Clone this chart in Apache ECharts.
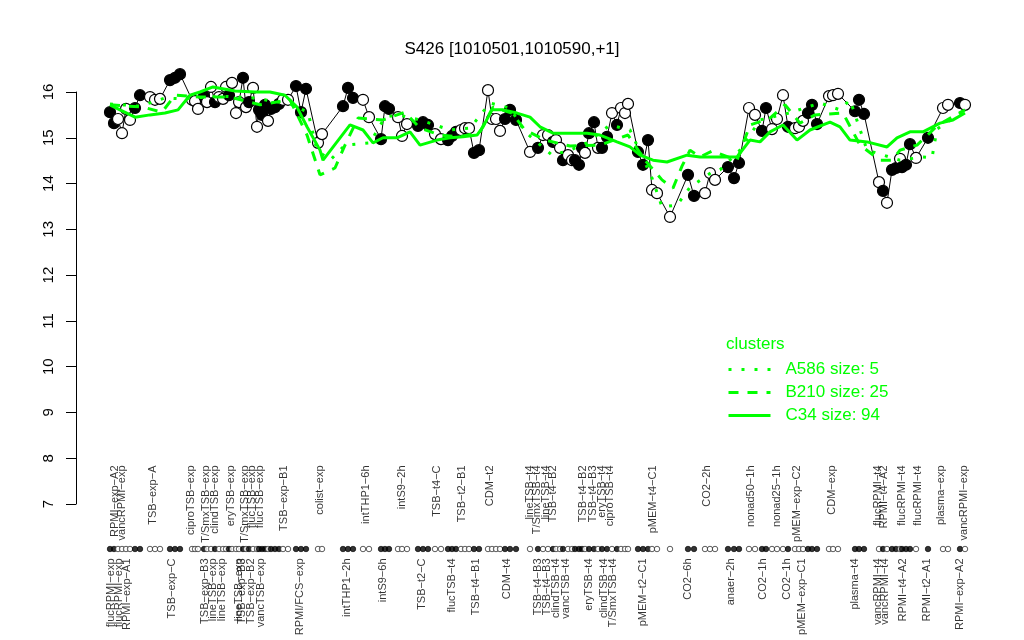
<!DOCTYPE html>
<html><head><meta charset="utf-8">
<script src="https://cdn.jsdelivr.net/npm/echarts@6/dist/echarts.min.js"></script>
<style>html,body{margin:0;padding:0;background:#fff}#c{width:1024px;height:640px}</style>
</head><body><div id="c"></div>
<script>
// sample order positions along x (sample slots)
const samplePos = [
1,2,3,4,5,6,7.25,8.5,11,12.25,
13.5,16,17.25,18.5,21.5,22.25,23,24.5,25.25,26.25,
27.25,28.25,29.25,30,30.75,31.5,32.5,33.25,34.25,35,
35.75,36.75,37.75,38.25,39,39.75,40.5,41.25,42.25,43.25,
44.25,45.5,47.5,48.75,50,53,54,59.25,60.5,61.75,
64.25,65.75,68.75,69.75,70.75,73,74,75.25,78,79.25,
80.5,82.25,83.75,85.5,86.5,87.5,88.75,89.75,90.75,92,
93.25,95.5,96.5,97.5,98.5,99.75,101,102.5,106,108,
109.25,110.5,111.75,112.5,113.5,114.25,115.5,116.5,117.25,118.25,
119,119.75,120.75,122,123,124,125.25,126.5,127.75,128.75,
129.75,130.5,133,134.25,135.5,136.5,137.75,141,145.5,147,
149.75,151,152.25,155.5,157,158.25,160.75,162.25,164,165,
166.5,167.75,169.25,170.5,172.25,173.25,174.25,175.5,176.5,177.75,
180.75,181.75,183,187.25,188.25,189.5,193.25,194.25,195.25,196.5,
197.5,198.5,199,200,201,202.5,205.5,209.25,210.5,213.5,
214.75];
// S426 expression per sample
const expr = [
15.56,15.32,15.41,15.10,15.63,15.39,15.65,15.93,15.89,15.83,
15.85,16.26,16.31,16.39,15.83,15.80,15.63,15.91,15.78,16.11,
15.78,15.89,15.85,16.11,15.93,16.20,15.54,15.78,16.31,15.67,
15.78,16.09,15.24,15.61,15.50,15.72,15.37,15.63,15.67,15.74,
15.83,15.83,16.13,15.56,16.07,14.89,15.08,15.69,16.09,15.87,
15.83,15.45,14.97,15.69,15.63,15.45,15.04,15.30,15.26,15.34,
15.28,15.08,14.97,14.95,15.04,15.13,15.17,15.21,15.21,14.67,
14.73,16.04,15.41,15.41,15.15,15.41,15.61,15.39,14.69,14.78,
15.06,15.06,14.91,14.95,14.78,14.51,14.62,14.51,14.51,14.41,
14.78,14.67,15.10,15.34,14.78,14.78,15.02,15.54,15.28,15.65,
15.54,15.74,14.69,14.41,14.95,13.86,13.79,13.27,14.19,13.73,
13.79,14.23,14.08,14.36,14.12,14.45,15.65,15.50,15.15,15.65,
15.19,15.41,15.93,15.24,15.21,15.24,15.37,15.54,15.72,15.30,
15.91,15.93,15.96,15.58,15.83,15.52,14.03,13.84,13.58,14.30,
14.34,14.54,14.36,14.41,14.86,14.56,15.00,15.65,15.72,15.76,
15.72];
// 1 = filled marker, 0 = open marker
const filled = [
1,1,0,0,0,0,1,1,0,0,
0,1,1,1,0,0,0,1,0,0,
1,0,0,0,1,0,0,0,1,0,
1,0,0,1,1,1,0,1,1,1,
0,0,1,1,1,0,0,1,1,1,
0,0,1,1,1,0,0,0,1,1,
1,0,0,1,1,1,0,0,0,1,
1,0,0,0,0,1,1,1,0,1,
0,0,1,0,0,1,0,0,1,1,
1,0,1,1,0,1,1,0,1,0,
0,0,1,1,1,0,0,0,1,1,
0,0,0,1,1,1,0,0,1,1,
0,0,0,1,0,0,0,1,1,1,
0,0,0,1,1,1,0,1,0,1,
1,0,1,1,1,0,1,0,0,1,
0];
// cluster mean profiles
const c34Pos = [1,3.5,7.25,11,14.75,18,21,23.5,26.75,32.25,37.25,41,44.75,47.75,50.25,53.5,54.25,61,64.25,66.75,69.25,72.75,76,78.5,82.75,86,89.25,92.75,94.25,96.5,99.25,102.75,106,108.5,111.75,115.25,120.25,123.5,127.75,131,133.5,136.75,140.25,145.25,148.5,152.75,157.75,161,163.5,166,169.25,172.75,176,181,183.5,186,190.25,195.25,197.75,201,204.25,208.5,211.75,214.75];
const c34Val = [15.72,15.61,15.45,15.50,15.54,15.61,15.93,16.00,16.11,16.02,16.00,16.00,15.93,15.67,15.24,14.73,14.51,15.28,15.17,14.89,15.00,15.00,15.13,14.84,14.95,15.00,15.02,15.06,15.24,15.61,15.61,15.54,15.45,15.24,15.10,15.10,15.10,15.06,14.91,14.80,14.62,14.51,14.47,14.62,14.58,14.58,14.58,14.95,14.91,15.13,15.28,14.95,15.17,15.34,15.24,14.95,14.91,14.80,15.00,15.13,15.13,15.32,15.39,15.54];
const b210Pos = [1,9.25,14,17.25,23.5,31,38.5,46,50.25,53.5,57.25,59.75,63,69.25,74.75,78.5,83.5,88.5,93.5,96.75,101.5,104.75,109.75,116,123.5,130.5,134.75,139,141.75,144,146,148.5,151.5,157.75,161,166,169.75,173.5,177.25,184.25,188.5,193.5,196.5,198.5,202.75,208,214.75];
const b210Val = [15.72,15.67,15.56,15.93,15.89,15.89,15.72,15.83,15.06,14.19,14.34,14.84,15.43,15.39,15.56,15.21,15.06,15.02,15.13,15.67,15.54,15.17,14.95,14.82,14.84,15.06,14.51,14.08,13.90,14.38,14.73,14.58,14.71,14.51,15.28,15.43,15.72,15.32,15.50,15.54,14.84,14.51,14.51,14.73,14.84,15.28,15.61];
const a586Pos = [1,8.5,14.75,19,28.5,36.75,46,50.5,52.75,56,59.75,66,69.75,73,78.5,86,91,96,101,104.75,111.5,116,120.25,126,131,136.5,139,142.75,146,151.5,153.5,158.5,163.5,170.75,178.5,183.5,186,190.25,198.5,204.25,206.5,207.75,214.75];
const a586Val = [15.74,15.69,15.87,15.85,15.91,15.87,15.74,15.56,14.73,14.51,14.84,14.89,15.45,15.50,15.39,15.17,15.21,15.76,15.65,15.13,14.62,14.73,14.89,15.28,15.17,14.12,13.49,13.53,13.92,14.25,14.30,14.73,15.39,15.54,15.76,15.61,15.83,14.73,14.51,14.58,14.56,15.19,15.61];
// condition labels (above / below the rug)
const topLabelNames = ["RPMI\u2212exp\u2212A2","vancRPMI\u2212exp","TSB\u2212exp\u2212A","ciproTSB\u2212exp","T/SmxTSB\u2212exp","clindTSB\u2212exp","eryTSB\u2212exp","T/SmxTSB\u2212exp","flucTSB\u2212exp","flucTSB\u2212exp","TSB\u2212exp\u2212B1","colist\u2212exp","intTHP1\u22126h","intS9\u22122h","TSB\u2212t4\u2212C","TSB\u2212t2\u2212B1","CDM\u2212t2","lineTSB\u2212t4","T/SmxTSB\u2212t4","lineTSB\u2212t4","TSB\u2212t4\u2212B2","TSB\u2212t4\u2212B2","TSB\u2212t4\u2212B3","eryTSB\u2212t4","ciproTSB\u2212t4","pMEM\u2212t4\u2212C1","CO2\u22122h","nonad50\u22121h","nonad25\u22121h","pMEM\u2212exp\u2212C2","CDM\u2212exp","flucRPMI\u2212t4","RPMI\u2212t4\u2212A2","flucRPMI\u2212t4","flucRPMI\u2212t4","plasma\u2212exp","vancRPMI\u2212exp"];
const topLabelPos = [2.25,4,11.75,21.25,25,27.25,31.25,34.75,36.5,38.5,44.5,53.5,65,74,82.75,89,96,106,107.75,110,111.75,119.25,121.75,124,126,136.75,150.25,161.25,167.75,172.75,181.5,193,194.5,199,203,208.75,214.5];
const bottomLabelNames = ["flucRPMI\u2212exp","flucRPMI\u2212exp","RPMI\u2212exp\u2212A1","TSB\u2212exp\u2212C","TSB\u2212exp\u2212B3","lineTSB\u2212exp","lineTSB\u2212exp","lineTSB\u2212exp","TSB\u2212exp\u2212B3","TSB\u2212exp\u2212B2","vancTSB\u2212exp","RPMI/FCS\u2212exp","intTHP1\u22122h","intS9\u22126h","TSB\u2212t2\u2212C","flucTSB\u2212t4","TSB\u2212t4\u2212B1","CDM\u2212t4","TSB\u2212t4\u2212B3","TSB\u2212t4\u2212B3","clindTSB\u2212t4","vancTSB\u2212t4","eryTSB\u2212t4","clindTSB\u2212t4","T/SmxTSB\u2212t4","pMEM\u2212t2\u2212C1","CO2\u22126h","anaer\u22122h","CO2\u22121h","CO2\u22121h","pMEM\u2212exp\u2212C1","plasma\u2212t4","vancRPMI\u2212t4","vancRPMI\u2212t4","RPMI\u2212t4\u2212A2","RPMI\u2212t2\u2212A1","RPMI\u2212exp\u2212A2"];
const bottomLabelPos = [1.25,3.25,5.25,16.5,24.75,26.75,29,33.25,34,36.25,38.75,48.5,60.25,69.25,79,86.5,92.5,100.25,108,110.25,112.5,115,120.75,124.5,126.75,134.25,145.5,156.25,164.25,170.25,174,187.25,193,194.75,199.25,205.25,213.5];
const yMin = 7, yMax = 16;
const titleText = "S426 [1010501,1010590,+1]";
const legendTitle = "clusters";
const clusterNames = ["A586 size: 5","B210 size: 25","C34 size: 94"];

const GREEN = '#00ff00';
const FONT = 'Liberation Sans, Arial, Helvetica, sans-serif';
const xr = {min: -7.5, max: 223.25};

const pts = samplePos.map((p,i)=>({value:[p, expr[i]], itemStyle:{color: filled[i] ? '#000' : '#fff'}}));
const rug = samplePos.map((p,i)=>({value:[p, 'rug'], itemStyle:{color: filled[i] ? '#000' : '#fff'}}));

const chart = echarts.init(document.getElementById('c'), null, {renderer:'canvas'});
chart.setOption({
  animation: false,
  backgroundColor: '#fff',
  title: [
    {text: titleText, left: 'center', top: 36, textStyle:{fontFamily: FONT, fontSize: 17, fontWeight:'normal', color:'#000'}},
    {text: legendTitle, left: 721, top: 331, textStyle:{fontFamily: FONT, fontSize: 17, fontWeight:'normal', color: GREEN}}
  ],
  legend: {
    data: clusterNames, orient: 'vertical', left: 722, top: 356,
    itemWidth: 42, itemHeight: 14, itemGap: 6,
    itemStyle: {color:'rgba(0,0,0,0)', borderWidth:0, opacity:0},
    lineStyle: {width: 3, color: GREEN},
    textStyle: {fontFamily: FONT, fontSize: 17, color: GREEN, padding:[0,0,0,10]},
    selectedMode: false
  },
  grid: [
    {left: 76, right: 25, top: 92, bottom: 136, containLabel: false},
    {left: 76, right: 25, top: 540, height: 18, containLabel: false}
  ],
  xAxis: [
    {type:'value', gridIndex:0, min: xr.min, max: xr.max, show:false},
    {type:'value', gridIndex:1, min: xr.min, max: xr.max, show:false}
  ],
  yAxis: [
    {type:'value', gridIndex:0, min: yMin, max: yMax, interval: 1,
     axisLine:{show:true, onZero:false, lineStyle:{color:'#000', width:1}},
     axisTick:{show:true, length:10, lineStyle:{color:'#000'}},
     splitLine:{show:false},
     axisLabel:{rotate: 90, margin: 20, fontFamily: FONT, fontSize: 15, color:'#000', align:'center', verticalAlign:'bottom'}},
    {type:'category', gridIndex:1, data:['rug'], show:false}
  ],
  series: [
    {type:'line', name:'profile', data: samplePos.map((p,i)=>[p, expr[i]]), symbol:'none', clip:false, silent:true,
     lineStyle:{color:'#000', width:1}, z:2},
    {type:'scatter', name:'points', data: pts, symbol:'circle', symbolSize: 11, clip:false, silent:true,
     itemStyle:{borderColor:'#000', borderWidth:1.2, opacity:1}, z:3},
    {type:'line', name: clusterNames[2], data: c34Pos.map((p,i)=>[p, c34Val[i]]), symbol:'none', clip:false, silent:true,
     lineStyle:{color:GREEN, width:3, type:'solid'}, itemStyle:{color:GREEN}, z:4},
    {type:'line', name: clusterNames[1], data: b210Pos.map((p,i)=>[p, b210Val[i]]), symbol:'none', clip:false, silent:true,
     lineStyle:{color:GREEN, width:3, type:[10,9]}, itemStyle:{color:GREEN}, z:4},
    {type:'line', name: clusterNames[0], data: a586Pos.map((p,i)=>[p, a586Val[i]]), symbol:'none', clip:false, silent:true,
     lineStyle:{color:GREEN, width:3, type:[3,10]}, itemStyle:{color:GREEN}, z:4},
    {type:'scatter', name:'rug', xAxisIndex:1, yAxisIndex:1, data: rug, symbolSize: 5.5, clip:false, silent:true,
     itemStyle:{borderColor:'#000', borderWidth:0.8}, z:3},
    {type:'scatter', name:'topLabels', xAxisIndex:1, yAxisIndex:1, symbolSize: 1, silent:true, clip:false,
     itemStyle:{color:'rgba(0,0,0,0)'},
     data: topLabelPos.map((p,i)=>({value:[p,'rug'], name: topLabelNames[i]})),
     label:{show:true, position:'top', distance: 83, rotate: 90, align:'right', verticalAlign:'middle',
            formatter:'{b}', fontFamily: FONT, fontSize: 11, color:'#000'}},
    {type:'scatter', name:'bottomLabels', xAxisIndex:1, yAxisIndex:1, symbolSize: 1, silent:true, clip:false,
     itemStyle:{color:'rgba(0,0,0,0)'},
     data: bottomLabelPos.map((p,i)=>({value:[p,'rug'], name: bottomLabelNames[i]})),
     label:{show:true, position:'bottom', distance: 9, rotate: 90, align:'right', verticalAlign:'middle',
            formatter:'{b}', fontFamily: FONT, fontSize: 11, color:'#000'}}
  ]
});
</script></body></html>
